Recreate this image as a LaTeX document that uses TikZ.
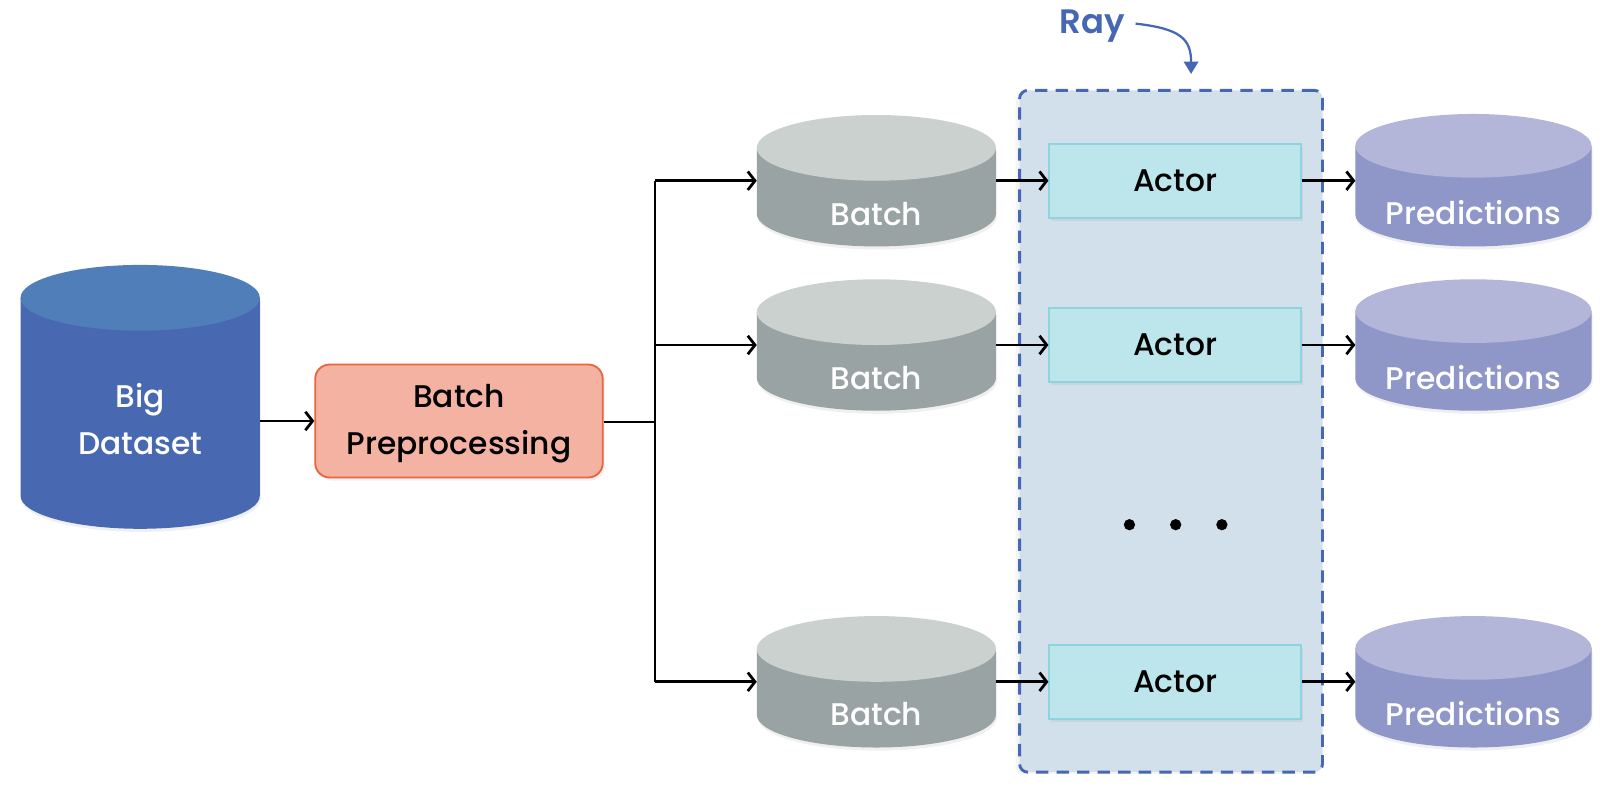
\documentclass[tikz,border=0pt]{standalone}
\usepackage{fontspec}
\setmainfont{Poppins}[UprightFont={* Medium}, BoldFont={* SemiBold}]
\usetikzlibrary{arrows.meta,shadows}
\definecolor{bdtop}{HTML}{507EB9}
\definecolor{bdbody}{HTML}{4869B2}
\definecolor{btop}{HTML}{CAD1CF}
\definecolor{bbody}{HTML}{9AA3A3}
\definecolor{ptop}{HTML}{B3B6D9}
\definecolor{pbody}{HTML}{8F96C8}
\definecolor{ppfill}{HTML}{F3B2A2}
\definecolor{ppdraw}{HTML}{E9643F}
\definecolor{rayfill}{HTML}{D2E0EC}
\definecolor{raydraw}{HTML}{4567B4}
\definecolor{actfill}{HTML}{BDE6EC}
\definecolor{actdraw}{HTML}{8ED4E0}
\newcommand\cylshape[7]{%
  \fill[#7, drop shadow={shadow xshift=1pt, shadow yshift=-3pt, opacity=0.12}]
    ({#1-#4},#2) -- ({#1-#4},#3)
    .. controls ({#1-#4},{#3+0.5523*#5}) and ({#1-0.5523*#4},{#3+#5}) .. ({#1},{#3+#5})
    .. controls ({#1+0.5523*#4},{#3+#5}) and ({#1+#4},{#3+0.5523*#5}) .. ({#1+#4},#3)
    -- ({#1+#4},#2) -- cycle;
  \fill[#6] (#1,#2) ellipse [x radius=#4, y radius=#5];
}
\tikzset{
  lbl/.style={font=\fontsize{30.5}{46}\selectfont, inner sep=0pt, align=center},
  hold/.style={inner sep=0pt, outer sep=0pt, minimum width=#1},
  arr/.style={line width=2.7pt, -{Straight Barb[length=7pt,width=18pt,line width=2.7pt]}},
  ppbox/.style={draw=ppdraw, fill=ppfill, line width=1.8pt, rounded corners=14pt,
    minimum width=280pt, minimum height=110pt, inner sep=0pt,
    drop shadow={shadow xshift=2pt, shadow yshift=-3pt, opacity=0.12}},
  actbox/.style={draw=actdraw, fill=actfill, line width=1.8pt,
    minimum width=245pt, minimum height=72pt, inner sep=0pt,
    drop shadow={shadow xshift=2pt, shadow yshift=-3pt, opacity=0.12}},
  raybox/.style={draw=raydraw, fill=rayfill, line width=2.8pt, rounded corners=8pt,
    dash pattern=on 12pt off 8pt, minimum width=295pt, minimum height=664pt, inner sep=0pt,
    drop shadow={shadow xshift=-4pt, shadow yshift=-2pt, opacity=0.08}},
}
\begin{document}
\begin{tikzpicture}[x=1pt,y=-1pt]
\useasboundingbox (0,0) rectangle (1568,782);
% Ray container
\node[raybox] (ray) at (1140.5,420) {};
\node[lbl, text=raydraw, font=\fontsize{33}{38}\selectfont\bfseries] (raylbl) at (1064,25) {Ray};
\coordinate (raytip) at (1160,72);
\draw[raydraw, line width=2.2pt, -{Triangle[length=12pt,width=14pt]}]
  ([xshift=10pt,yshift=2pt]raylbl.east) .. controls (1150,28) and (1160,38) .. (raytip);
% Big dataset
\cylshape{136.5}{290}{483}{116.5}{32}{bdtop}{bdbody}
\node[hold=233pt, minimum height=193pt] (bd) at (136.5,386) {};
\node[lbl, text=white] (bdt) at (136.5,408) {Big\\Dataset};
% Batch preprocessing
\node[ppbox] (pp) at (447,410) {};
\node[lbl] (ppt) at (447,412.5) {Batch\\Preprocessing};
\draw[arr] (bd.east |- pp.west) -- (pp.west);
% Batches
\cylshape{853.5}{144}{208}{116.5}{32}{btop}{bbody}
\cylshape{853.5}{304}{368}{116.5}{32}{btop}{bbody}
\cylshape{853.5}{632}{696}{116.5}{32}{btop}{bbody}
\node[hold=233pt, minimum height=64pt] (b1) at (853.5,176) {};
\node[hold=233pt, minimum height=64pt] (b2) at (853.5,336) {};
\node[hold=233pt, minimum height=64pt] (b3) at (853.5,664) {};
\node[lbl, text=white] (b1t) at (853.5,208) {Batch};
\node[lbl, text=white] (b2t) at (853.5,368) {Batch};
\node[lbl, text=white] (b3t) at (853.5,695) {Batch};
% Predictions
\cylshape{1435}{142}{209}{115}{31}{ptop}{pbody}
\cylshape{1435}{303}{369}{115}{31}{ptop}{pbody}
\cylshape{1435}{631}{697}{115}{31}{ptop}{pbody}
\node[hold=230pt, minimum height=64pt] (p1) at (1435,176) {};
\node[hold=230pt, minimum height=64pt] (p2) at (1435,336) {};
\node[hold=230pt, minimum height=64pt] (p3) at (1435,664) {};
\node[lbl, text=white] (p1t) at (1435,207) {Predictions};
\node[lbl, text=white] (p2t) at (1435,368) {Predictions};
\node[lbl, text=white] (p3t) at (1435,695) {Predictions};
% Actors
\node[actbox, lbl] (a1) at (1144.5,176) {Actor};
\node[actbox, lbl] (a2) at (1144.5,336) {Actor};
\node[actbox, lbl] (a3) at (1144.5,664) {Actor};
% dots
\fill (1100,511) circle (5.5);
\fill (1145,511) circle (5.5);
\fill (1190,511) circle (5.5);
% connectors
\coordinate (split) at (638,411);
\draw[line width=2.7pt] (pp.east |- split) -- (split);
\draw[line width=2.7pt] (split |- b1.west) -- (split |- b3.west);
\draw[arr] (split |- b1.west) -- (b1.west);
\draw[arr] (split |- b2.west) -- (b2.west);
\draw[arr] (split |- b3.west) -- (b3.west);
\draw[arr] (b1.east) -- (a1.west);
\draw[arr] (b2.east) -- (a2.west);
\draw[arr] (b3.east) -- (a3.west);
\draw[arr] (a1.east) -- (p1.west);
\draw[arr] (a2.east) -- (p2.west);
\draw[arr] (a3.east) -- (p3.west);
\end{tikzpicture}
\end{document}
